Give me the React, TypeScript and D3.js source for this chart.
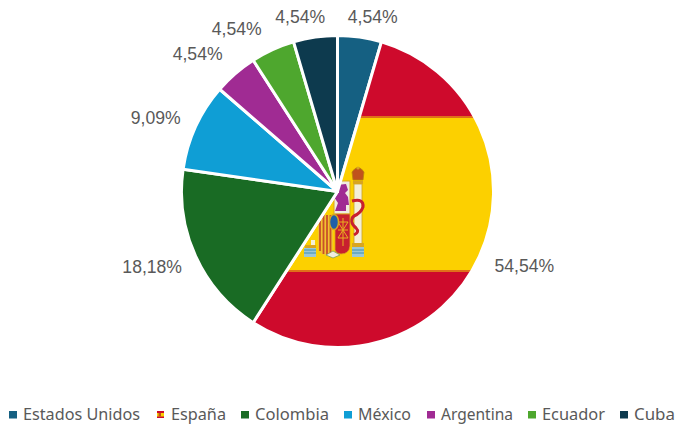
import React from "react";
import * as d3 from "d3";

const categories = ["Estados Unidos", "España", "Colombia", "México", "Argentina", "Ecuador", "Cuba"];
const values = [4.54, 54.54, 18.18, 9.09, 4.54, 4.54, 4.54];
const labels = ["4,54%", "54,54%", "18,18%", "9,09%", "4,54%", "4,54%", "4,54%"];

// layout only
const colors = ["#156082", "url(#flag)", "#196B24", "#0F9ED5", "#A02B93", "#4EA72E", "#0D3A4E"];
const legendColors = ["#156082", "", "#196B24", "#0F9ED5", "#A02B93", "#4EA72E", "#0D3A4E"];
const legendSwatchX = [9, 157, 241, 344, 427, 528, 620];
const legendTextX = [23, 171, 255, 358, 441, 542, 634];
const legendTextW = [117, 55, 74, 53, 72, 63, 41];
const labelOffset: [number, number][] = [
  [10.5, -2.5], [28.5, 2.5], [-27, 3.5], [-23.5, -1], [-26, -6], [-28.5, -4.5], [-12.5, -2.5],
];

const W = 676, H = 428, CX = 337.5, CY = 191.5, R = 156;
const TEXT = "#595959";
const RED = "#CE0A2C", YEL = "#FCD000";

function FlagBands() {
  return (
    <>
      <rect x={CX - R - 2} y={CY - R - 2} width={2 * R + 4} height={2 * R + 4} fill={RED} />
      <rect x={CX - R - 2} y={116} width={2 * R + 4} height={2} fill="#E0701A" />
      <rect x={CX - R - 2} y={118} width={2 * R + 4} height={152} fill={YEL} />
      <rect x={CX - R - 2} y={270} width={2 * R + 4} height={2} fill="#E0701A" />
    </>
  );
}

function Emblem() {
  return (
    <g>
      {/* pillars */}
      <rect x={354} y={184} width={8} height={60} fill="#F4EFD8" stroke="#C9A227" strokeWidth={0.8} />
      <rect x={353} y={181} width={10} height={3} fill="#D9A520" />
      <path d="M352 172 q6 -9 12 0 l-1 8 h-10 z" fill="#C0521C" stroke="#B8860B" strokeWidth={0.8} />
      <circle cx={358} cy={168} r={1.5} fill="#D9A520" />
      <rect x={352} y={243} width={12} height={4} fill="#D9A520" />
      <rect x={352} y={247} width={12} height={10} fill="#9CC7D6" />
      <path d="M352 250 h12 M352 253 h12" stroke="#3E8FB0" strokeWidth={1} />
      <rect x={311} y={240} width={4} height={5} fill="#F4EFD8" />
      <rect x={305} y={245} width={11} height={3} fill="#D9A520" />
      <rect x={304} y={248} width={12} height={9} fill="#9CC7D6" />
      <path d="M304 250 h12 M304 253 h12" stroke="#3E8FB0" strokeWidth={1} />
      {/* ribbon */}
      <path d="M352 201 q12 -3 11 6 q-2 6 -9 9 q-6 5 2 12 q4 4 -2 7" fill="none" stroke="#C8202F" strokeWidth={3} />
      {/* top quarter */}
      <rect x={334} y={181} width={16} height={33} fill="#F0ECE0" stroke="#D9A520" strokeWidth={1} />
      <path d="M337 185 l9 -1 l2 6 l-3 3 l3 4 l1 8 l-3 0 l0 6 l-11 0 l3 -8 l-4 -6 l4 -5 z" fill="#A02B93" />
      {/* shield */}
      <path d="M318 215 h15 v34 q-1 7 -8 6 q-7 -1 -7 -9 z" fill="#F2C230" />
      <path d="M320 215 v36 M323.5 215 v39 M327 215 v40 M330.5 215 v38" stroke="#C8502A" strokeWidth={1.8} />
      <path d="M335 214 h15 v32 q-1 8 -9 8 q-5 0 -6 -4 z" fill="#C8202F" stroke="#D9A520" strokeWidth={0.8} />
      <path d="M338 222 h10 M338 230 h10 M338 238 h10 M343 218 v28 M338 222 l10 16 M348 222 l-10 16" stroke="#E8B020" strokeWidth={1} fill="none" />
      <ellipse cx={334} cy={222} rx={4.5} ry={7.5} fill="#1E5FA8" stroke="#D9A520" strokeWidth={1.5} />
      <path d="M326 255 l7 -4 l7 4 l-7 3 z" fill="#F0ECE0" stroke="#7BA05B" strokeWidth={0.8} />
    </g>
  );
}

export default function App() {
  const pie = d3.pie<number>().sort(null).startAngle(0).endAngle(2 * Math.PI);
  const arcs = pie(values);
  const arc = d3.arc<d3.PieArcDatum<number>>().innerRadius(0).outerRadius(R);
  const labelArc = d3.arc<d3.PieArcDatum<number>>().innerRadius(R + 18).outerRadius(R + 18);
  const font = "'Liberation Sans', Arial, sans-serif";
  const legendFont = "'Noto Sans', 'Open Sans', sans-serif";

  return (
    <svg width={W} height={H} style={{ position: "absolute", left: 0, top: 0, background: "#fff" }}>
      <defs>
        <clipPath id="espClip">
          <path d={arc(arcs[1]) || ""} transform={`translate(${CX},${CY})`} />
        </clipPath>
      </defs>

      {arcs.map((a, i) =>
        i === 1 ? (
          <g key={i}>
            <g clipPath="url(#espClip)">
              <FlagBands />
              <Emblem />
            </g>
            <path d={arc(a) || ""} transform={`translate(${CX},${CY})`} fill="none" stroke="#fff" strokeWidth={3} strokeLinejoin="round" />
          </g>
        ) : (
          <path key={i} d={arc(a) || ""} transform={`translate(${CX},${CY})`} fill={colors[i]} stroke="#fff" strokeWidth={3} strokeLinejoin="round" />
        )
      )}

      {arcs.map((a, i) => {
        const [x, y] = labelArc.centroid(a);
        return (
          <text key={i} x={CX + x + labelOffset[i][0]} y={CY + y + labelOffset[i][1]} textAnchor="middle" dominantBaseline="central"
            fontFamily={font} fontSize={17.6} fill={TEXT}>
            {labels[i]}
          </text>
        );
      })}

      {categories.map((c, i) => (
        <g key={c}>
          {i === 1 ? (
            <g>
              <rect x={legendSwatchX[i]} y={411} width={7} height={7} fill={RED} />
              <rect x={legendSwatchX[i]} y={413} width={7} height={3.5} fill={YEL} />
              <rect x={legendSwatchX[i] + 1.5} y={413} width={2.5} height={3.5} fill="#C0521C" />
            </g>
          ) : (
            <rect x={legendSwatchX[i]} y={411} width={8} height={7.5} fill={legendColors[i]} />
          )}
          <text x={legendTextX[i]} y={420} fontFamily={legendFont} fontSize={15.5} fill={TEXT}
            textLength={legendTextW[i]} lengthAdjust="spacingAndGlyphs">
            {c}
          </text>
        </g>
      ))}
    </svg>
  );
}
